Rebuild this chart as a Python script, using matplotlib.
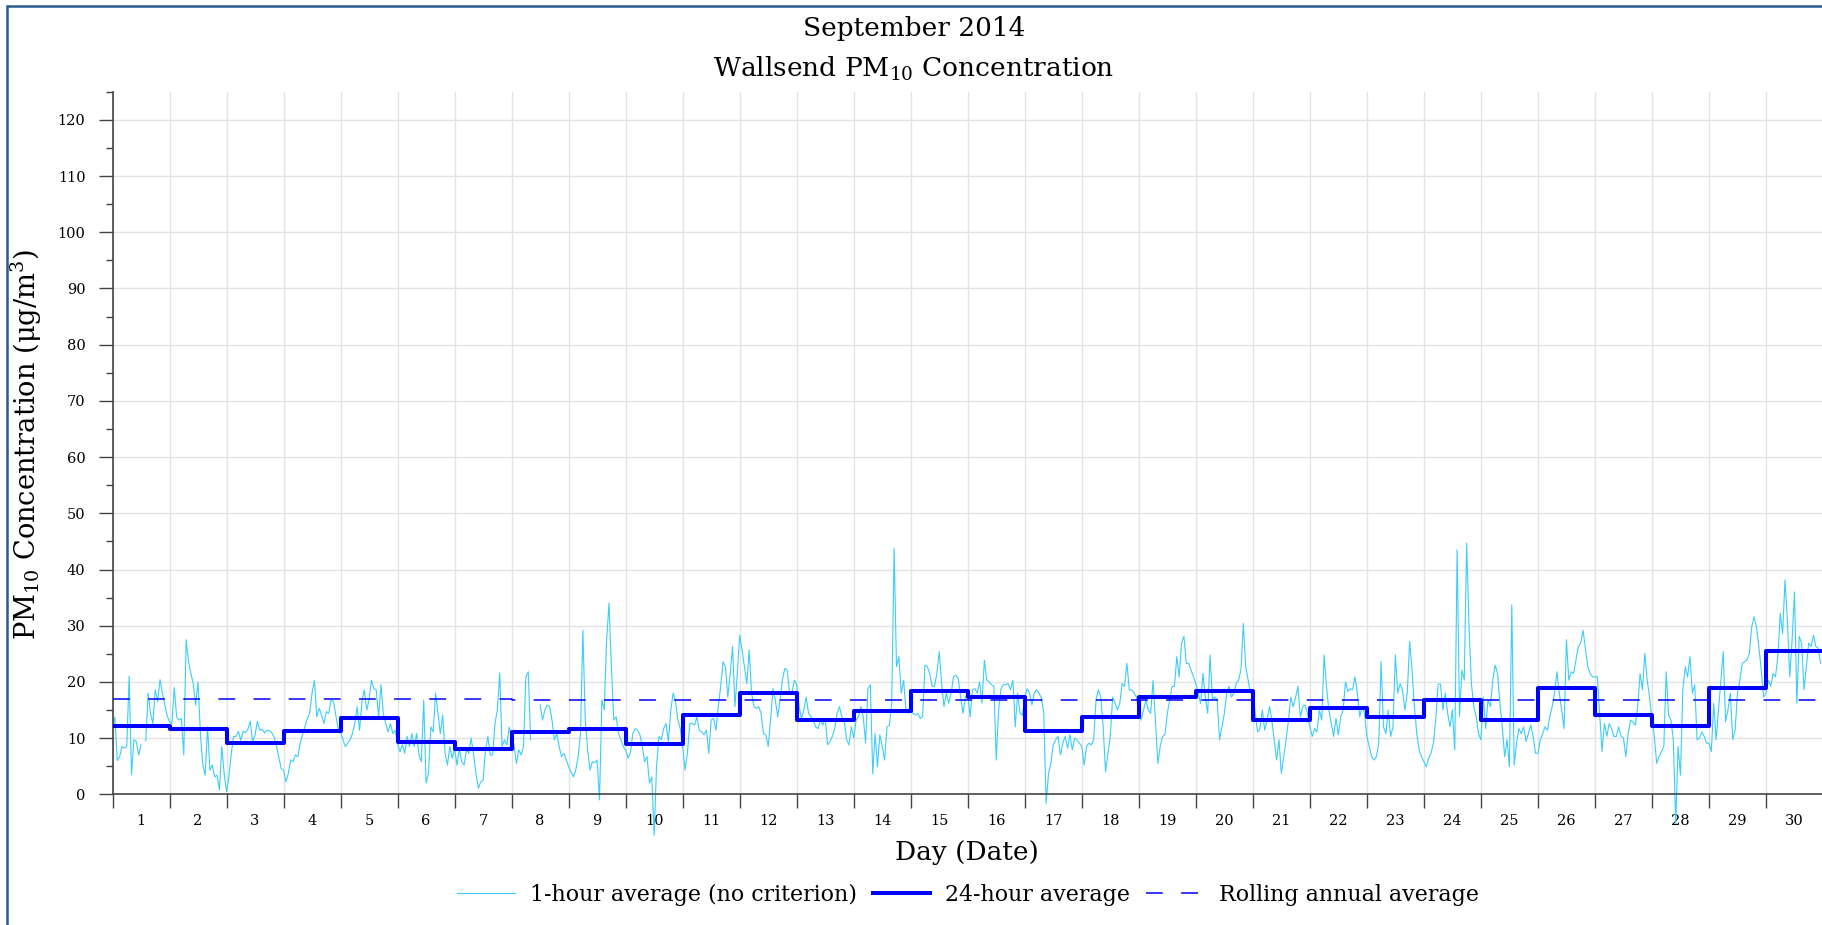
import matplotlib
matplotlib.use("Agg")
import matplotlib.pyplot as plt
import numpy as np
from matplotlib.patches import Rectangle
from matplotlib.lines import Line2D

nan = float("nan")

# ---------------- data ----------------
days = list(range(1, 31))
day_labels = [str(d) for d in days]

avg_24h = [12.1, 11.7, 9.1, 11.3, 13.6, 9.3, 8.1, 11.1, 11.7, 8.95,
           14.1, 18.0, 13.3, 14.9, 18.4, 17.3, 11.3, 13.8, 17.3, 18.4,
           13.2, 15.3, 13.7, 16.8, 13.2, 19.0, 14.05, 12.15, 19.0, 25.5]

rolling_annual = [16.9, 16.9, 16.9, 16.9, 16.9, 16.9, 16.9, 16.85, 16.8, 16.8,
                  16.75, 16.75, 16.75, 16.75, 16.75, 16.7, 16.7, 16.7, 16.7, 16.7,
                  16.7, 16.7, 16.7, 16.7, 16.7, 16.7, 16.7, 16.7, 16.7, 16.7]

d01 = [12, 13.7, 6, 6.7, 8.5, 8.2, 8.5, 21, 3.5, 9.7, 9.4, 7, 8.8, nan, 9.5, 18, 14.4, 12.6, 18.6, 16.5, 20.4, 18, 16, 14]
d02 = [12.9, 12.6, 19, 13.8, 13.2, 13.5, 7, 27.5, 23.6, 21.5, 19.7, 15.9, 20, 10.8, 5.2, 3.4, 12, 4.3, 5.2, 3.1, 3.4, 0.8, 8.5, 3.7]
d03 = [0.5, 3.1, 7.3, 10.3, 10.3, 11.2, 9.6, 11.2, 11.0, 11.6, 13.0, 9.3, 10.6, 13.0, 11.4, 11.6, 10.9, 11.4, 11.3, 11.0, 10.2, 8.6, 6.6, 4.6]
d04 = [4.3, 2.2, 3.7, 6.1, 5.8, 7, 6.7, 9.1, 10.6, 12, 13.5, 14.4, 18, 20.3, 13.8, 15.3, 14.1, 12.6, 14.7, 14.4, 16.8, 16.5, 14.1, 11.7]
d05 = [11.1, 9.7, 8.5, 9.1, 9.7, 10.8, 12.6, 15.6, 11.4, 16.5, 18.6, 15, 16.8, 20.3, 18.8, 18.6, 13.8, 19.5, 14.4, 12.6, 11.1, 12.6, 10.8, 11.4]
d06 = [9.1, 7.6, 8.8, 7.3, 10.3, 8.5, 10.8, 8.5, 10.8, 7, 5.8, 16.8, 2, 3.7, 12, 11.1, 18, 14.4, 10.8, 14.1, 7.3, 5.2, 8.5, 6.4]
d07 = [8.2, 5.2, 8.2, 5.8, 5.2, 7.9, 7.3, 10, 7, 3.7, 1.1, 2.2, 2.5, 7.9, 10.3, 7, 7, 12.6, 15, 21.6, 8.5, 9.7, 8.8, 12]
d08 = [10, 8.8, 5.5, 7.9, 7, 8.5, 20.9, 21.8, 9.7, nan, nan, nan, 15.9, 13.2, 15, 15.9, 15.6, 13.2, 9.7, 10.8, 8.5, 6.7, 7.3, 6.1]
d09 = [4.9, 4, 3.1, 4.3, 6.7, 10.8, 29.2, 13.2, 7.9, 4.3, 5.8, 5.6, 6.1, -1, 16.8, 15, 27.5, 34, 22.7, 13.2, 13.8, 10.8, 9.7, 8.5]
d10 = [7.9, 6.4, 7.3, 10.8, 11.7, 11.4, 10.6, 8.5, 5.8, 6.7, 2, 3.1, -7.3, 4.9, 10.3, 9.7, 11.7, 12.6, 9.4, 15, 18, 16.5, 13.2, 11.7]
d11 = [8.5, 4.3, 7.3, 12.6, 12.6, 12.3, 13.8, 11.4, 11.1, 10.6, 11.4, 7.3, 13.2, 13.5, 11.4, 15.6, 19.2, 23.6, 22.7, 17.3, 21.4, 26.3, 15.6, 21.5]
d12 = [28.3, 25.7, 22.7, 19.7, 25.7, 18, 15.6, 15.3, 15.6, 14.4, 10.8, 10.6, 8.5, 13.2, 18.8, 16.8, 13.8, 16.8, 20.4, 22.4, 22.1, 18, 18, 20.3]
d13 = [19.5, 15.6, 13.5, 15, 17.3, 14.4, 13.8, 13.2, 12, 11.7, 13.2, 12.3, 13.5, 8.8, 9.4, 10.3, 11.7, 14.4, 15.6, 13.8, 13.2, 9.7, 8.8, 12]
d14 = [10, 13.2, 13.8, 15.6, 13.8, 9.1, 18.8, 19.5, 3.7, 10.8, 4.9, 10.6, 8.5, 6.1, 12, 12.3, 16.2, 43.8, 22.7, 24.5, 18, 20.3, 15, 14.4]
d15 = [15, 14.4, 14.1, 14.4, 13.5, 13.8, 23, 22.7, 21.5, 19.2, 19.2, 21.5, 25.4, 19.7, 15.6, 18, 16.2, 18, 20.9, 21.2, 20.6, 17.3, 14.4, 17.3]
d16 = [18, 13.8, 18.6, 18.8, 18, 20, 16.2, 23.9, 20.3, 20, 19.5, 19.2, 6.1, 15, 18.8, 19.5, 19.5, 19.7, 18.6, 20.3, 12, 18, 14.4, 14.1]
d17 = [17.3, 18.8, 18, 15.9, 18, 18.6, 18, 17.1, 14.4, -1.6, 3.7, 5.5, 8.8, 9.7, 10.3, 7, 9.1, 10.3, 8.2, 10.6, 7.9, 10, 9.7, 9.1]
d18 = [8.5, 5.2, 8.5, 9.1, 8.8, 9.7, 16.8, 18.6, 17.3, 12, 4, 7.3, 10.3, 17.3, 16.2, 15, 16.2, 19.7, 19.2, 23.3, 18.6, 18.6, 18, 17.3]
d19 = [14.4, 13.2, 15, 16.8, 15, 14.4, 20.3, 13.2, 5.5, 8.5, 10.3, 10.6, 14.4, 16.8, 19.2, 19.2, 24.5, 20.9, 26.9, 28.1, 23.3, 23.3, 22.1, 20.9]
d20 = [19.7, 18, 16.2, 21.5, 17.3, 14.4, 24.8, 16.8, 17.3, 16.8, 9.7, 12, 14.4, 18, 19.2, 17.3, 18, 19.7, 20.3, 22.1, 30.4, 22.7, 20.3, 18]
d21 = [18.6, 14.4, 11.1, 11.7, 15, 11.4, 13.2, 15.6, 13.2, 9.7, 6.1, 9.7, 3.7, 6.7, 9.7, 13.2, 17.3, 15.6, 17.3, 19.2, 13.8, 15.6, 15.9, 14.4]
d22 = [12, 10.3, 11.7, 11.1, 15, 13.2, 24.8, 19.2, 15, 12.6, 10.3, 13.5, 10.6, 13.8, 15, 20, 18.3, 18.8, 18.6, 20.9, 18, 13.8, 15.6, 14.4]
d23 = [10.3, 8.5, 6.7, 6.1, 6.7, 9.1, 23.6, 12, 10.8, 15, 10.3, 12, 24.8, 18, 19.7, 18.6, 15, 18, 27.2, 22.1, 15.6, 10.8, 7.9, 6.7]
d24 = [5.8, 4.9, 6.4, 7.3, 9.1, 13.2, 19.6, 19.6, 15, 18, 14.4, 12, 15, 7.9, 43.5, 13.8, 22.1, 20.3, 44.7, 29.8, 19.7, 15.6, 13.8, 10.8]
d25 = [9.7, 17.3, 11.7, 16.8, 15.6, 20.3, 23, 21.5, 16.2, 12, 6.7, 9.7, 4.9, 33.7, 5.2, 9.1, 11.7, 10.8, 12, 9.4, 10.8, 12.3, 10.3, 7.3]
d26 = [7.3, 9.7, 10.8, 12, 11.4, 13.8, 15.6, 18, 21.8, 18, 15, 11.7, 27.5, 20.3, 21.8, 21.5, 23.9, 26.3, 26.9, 29.2, 26, 22.7, 21.5, 20.9]
d27 = [20.9, 20.9, 14.4, 7.6, 12.6, 10.3, 12.6, 11.7, 10.3, 10.3, 12, 10.3, 10, 6.7, 10.8, 13.2, 12.9, 12.3, 15.6, 21.5, 18.6, 25.1, 20.3, 17.3]
d28 = [13.2, 10.3, 5.5, 6.7, 7.6, 8.5, 21.8, 14.1, 13.2, 9.7, -5, 8.5, 3.4, 18.6, 22.7, 20.9, 24.5, 18, 19.5, 9.7, 10, 11.1, 10.3, 9.1]
d29 = [9.1, 7.6, 16.2, 9.7, 15, 20.3, 25.4, 12.9, 15, 18, 9.7, 11.4, 18, 20.3, 23.3, 23.6, 23.9, 25.1, 29.8, 31.6, 29.8, 26.3, 22.1, 17.3]
d30 = [18, 20.3, 19.2, 21.5, 20.9, 24.5, 32.2, 28.6, 38.1, 31, 20.9, 27.5, 36, 16.2, 28.1, 26.9, 18.6, 22.7, 26.9, 26.3, 28.3, 26.3, 26, 23.3]

hourly = (d01 + d02 + d03 + d04 + d05 + d06 + d07 + d08 + d09 + d10 +
          d11 + d12 + d13 + d14 + d15 + d16 + d17 + d18 + d19 + d20 +
          d21 + d22 + d23 + d24 + d25 + d26 + d27 + d28 + d29 + d30)

# ---------------- style ----------------
plt.rcParams["font.family"] = ["DejaVu Serif"]
plt.rcParams["mathtext.fontset"] = "dejavuserif"

W, H = 1822, 925
fig = plt.figure(figsize=(W / 100, H / 100), dpi=100)

ax = fig.add_axes([112.5 / W, (H - 794.3) / H, (1823 - 112.5) / W, (794.3 - 91.8) / H])

x_hour = np.arange(len(hourly)) / 24.0
edges = np.arange(0, 31)

c_hour = "#3ccdf8"
c_blue = "#0000ff"
annual_dash = (11, 12)

ax.plot(x_hour, hourly, color=c_hour, lw=0.8, clip_on=False, zorder=2)
ax.step(edges, avg_24h + [avg_24h[-1]], where="post", color=c_blue, lw=2.9, zorder=4)
ax.step(edges, rolling_annual + [rolling_annual[-1]], where="post", color=c_blue,
        lw=1.1, dashes=annual_dash, zorder=3)

ax.set_xlim(0, 30)
ax.set_ylim(0, 125)

ax.set_xticks(edges)
ax.set_xticklabels([])
ax.set_xticks(np.arange(0.5, 30, 1), minor=True)
ax.set_xticklabels(day_labels, minor=True)
ax.set_yticks(np.arange(0, 121, 10))
ax.set_yticks(np.arange(5, 126, 10), minor=True)

ax.tick_params(axis="x", which="major", length=10, width=1, color="#444444", direction="out")
ax.tick_params(axis="x", which="minor", length=0, pad=14, labelsize=10.5)
ax.tick_params(axis="y", which="major", length=10, width=1, color="#444444", pad=9.5, labelsize=10.5)
ax.tick_params(axis="y", which="minor", length=5, width=1, color="#444444")

ax.grid(True, which="major", color="#e3e3e3", lw=1)
ax.set_axisbelow(True)
for s in ["top", "right"]:
    ax.spines[s].set_visible(False)
for s in ["left", "bottom"]:
    ax.spines[s].set_color("#444444")
    ax.spines[s].set_linewidth(1.2)

# titles and labels
fig.text(914 / W, 1 - 36 / H, "September 2014", ha="center", va="baseline", fontsize=19)
fig.text(914 / W, 1 - 76.5 / H, "Wallsend PM$_{10}$ Concentration", ha="center", va="baseline", fontsize=19)
fig.text(967 / W, 1 - 860 / H, "Day (Date)", ha="center", va="baseline", fontsize=19)
fig.text(26.5 / W, 1 - 445 / H, "PM$_{10}$ Concentration (\u03bcg/m$^{3}$)", ha="center", va="center",
         rotation=90, fontsize=19.6)

handles = [Line2D([], [], color=c_hour, lw=0.8),
           Line2D([], [], color=c_blue, lw=2.9),
           Line2D([], [], color=c_blue, lw=1.1, dashes=annual_dash)]
labels = ["1-hour average (no criterion)", "24-hour average", "Rolling annual average"]
fig.legend(handles, labels, loc="center", bbox_to_anchor=(968 / W, 1 - 894.7 / H), ncol=3,
           frameon=False, fontsize=15.9, handlelength=2.6, handletextpad=0.7, columnspacing=0.7)

# figure border (dark blue, cut at right and bottom)
fig.patches.append(Rectangle((6.5 / W, -0.05), 1.2, 1.05 - 6.5 / H, transform=fig.transFigure,
                             fill=False, edgecolor="#2b5b8c", lw=1.8, zorder=10))

fig.savefig("out.png", dpi=100)
